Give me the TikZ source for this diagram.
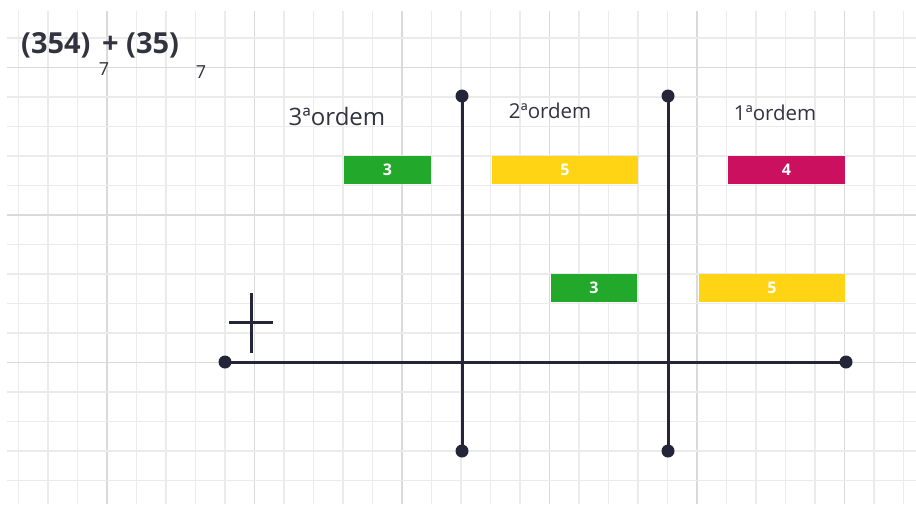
\documentclass[tikz,border=0pt]{standalone}
\usepackage{fontspec}
\setmainfont{Open Sans}
\usetikzlibrary{calc}
\definecolor{ink}{HTML}{25253A}
\definecolor{gridmajor}{HTML}{DADADA}
\definecolor{gridminor}{HTML}{EBEBEB}
\definecolor{barGreen}{HTML}{22A82A}
\definecolor{barYellow}{HTML}{FFD414}
\definecolor{barPink}{HTML}{CC1060}
\definecolor{txt}{HTML}{333340}
\begin{document}
\begin{tikzpicture}[%
  x=1pt,y=-1pt,
  minor/.style={gridminor,line width=1.2pt},
  major/.style={gridmajor,line width=1.8pt},
  axis/.style={ink,line width=3pt},
  dot/.style={circle,fill=ink,inner sep=0pt,minimum size=13pt},
  bar/.style={rectangle,inner sep=0pt,minimum height=28pt,text=white,
    font=\fontsize{16}{16}\selectfont\bfseries},
  order/.style={text=txt,inner sep=0pt},
  title/.style={text=txt,inner sep=0pt,anchor=base west,font=\fontsize{29}{29}\selectfont\bfseries},
  sub/.style={text=txt,inner sep=0pt,anchor=base,font=\fontsize{18}{18}\selectfont}]
    \useasboundingbox[fill=white] (0,0) rectangle (916,504);
    % Grid
    \foreach \i in {0,...,30}{
      \pgfmathsetmacro{\gx}{18.5+29.5*\i}
      \pgfmathtruncatemacro{\m}{mod(\i+2,5)}
      \ifnum\m=0 \draw[major] (\gx,11) -- (\gx,504);
      \else \draw[minor] (\gx,11) -- (\gx,504); \fi
    }
    \foreach \j in {1,...,16}{
      \pgfmathsetmacro{\gy}{8.5+29.5*\j}
      \pgfmathtruncatemacro{\m}{mod(\j+3,5)}
      \ifnum\m=0 \draw[major] (7,\gy) -- (916,\gy);
      \else \draw[minor] (7,\gy) -- (916,\gy); \fi
    }
    % Title
    \node[title] (lhs) at (21,53) {(354)};
    \node[sub] (lhsbase) at (104,75) {7};
    \node[title] (plus) at (102,53) {+};
    \node[title] (rhs) at (126,53) {(35)};
    \node[sub] (rhsbase) at (201,78) {7};
    % Orders
    \node[order,font=\fontsize{24}{24}\selectfont] (ord3) at (337,116) {3ªordem};
    \node[order,font=\fontsize{20.5}{20.5}\selectfont] (ord2) at (550,111) {2ªordem};
    \node[order,font=\fontsize{20.5}{20.5}\selectfont] (ord1) at (775,113) {1ªordem};
    % Axes
    \node[dot] (v1top) at (462,96) {};
    \node[dot] (v1bot) at (462,451) {};
    \node[dot] (v2top) at (668,96) {};
    \node[dot] (v2bot) at (668,451) {};
    \node[dot] (hleft) at (225,362) {};
    \node[dot] (hright) at (846,362) {};
    \draw[axis] (v1top.center) -- (v1bot.center);
    \draw[axis] (v2top.center) -- (v2bot.center);
    \draw[axis] (hleft.center) -- (hright.center);
    % Plus sign
    \coordinate (pl) at (229,322);
    \coordinate (pr) at (273,322);
    \coordinate (pt) at (251,293);
    \coordinate (pb) at (251,353);
    \draw[axis] (pl) -- (pr) (pt) -- (pb);
    % Digits
    \node[bar,fill=barGreen,minimum width=87pt] (a3) at (387.5,170) {3};
    \node[bar,fill=barYellow,minimum width=146pt] (a5) at (565,170) {5};
    \node[bar,fill=barPink,minimum width=117pt] (a4) at (786.5,170) {4};
    \node[bar,fill=barGreen,minimum width=86pt] (b3) at (594,288) {3};
    \node[bar,fill=barYellow,minimum width=146pt] (b5) at (772,288) {5};
\end{tikzpicture}
\end{document}
